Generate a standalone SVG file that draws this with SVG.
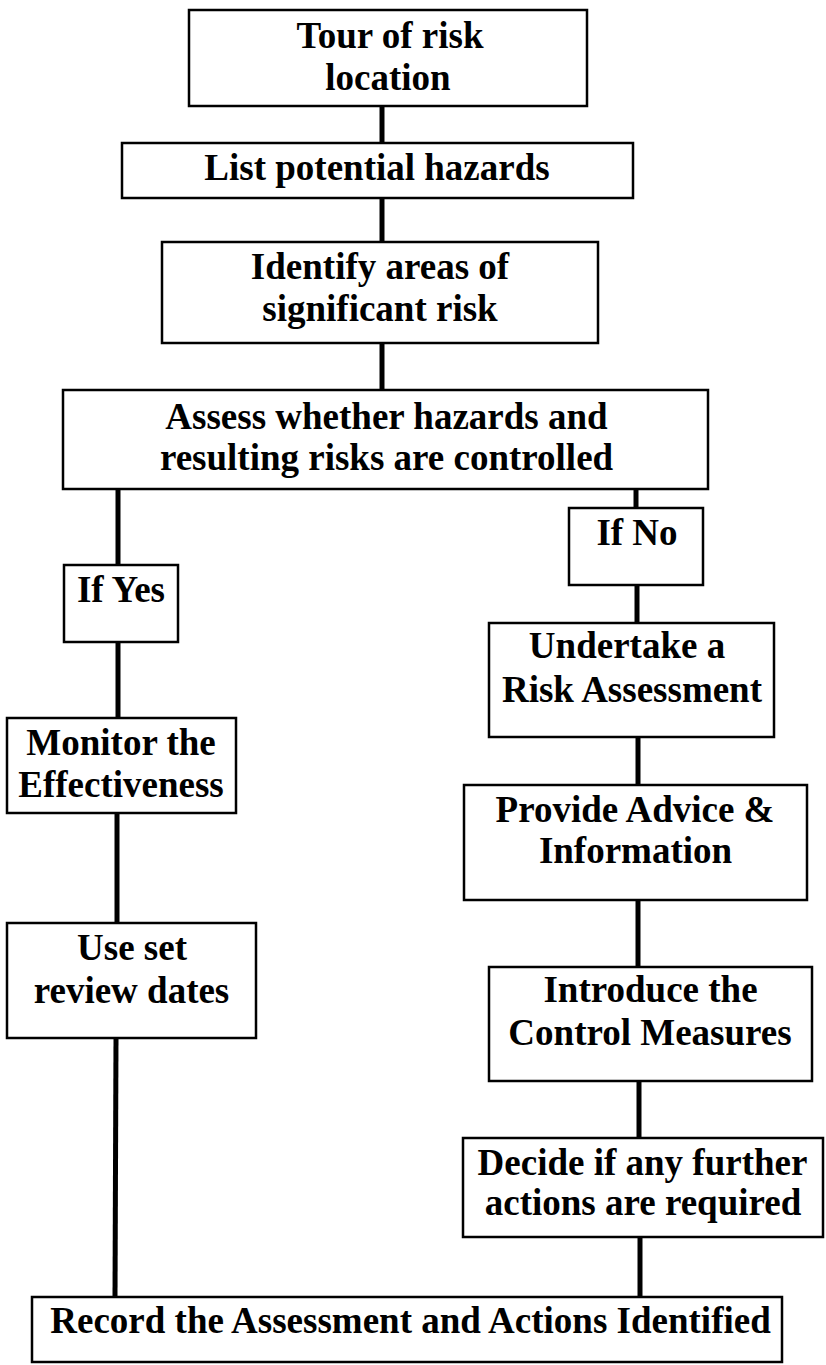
<svg xmlns="http://www.w3.org/2000/svg" width="826" height="1365" viewBox="0 0 826 1365">
<style>
.box{fill:#fff;stroke:#000;stroke-width:2.5}
.lbl{font-family:"Liberation Serif","Times New Roman",serif;font-weight:bold;font-size:37px;fill:#000;text-anchor:middle}
.con{stroke:#000;stroke-width:5;fill:none}
</style>
<rect width="826" height="1365" fill="#fff"/>
<g id="connectors">
<line class="con" x1="382" y1="106" x2="382" y2="143"/>
<line class="con" x1="382" y1="198" x2="382" y2="242"/>
<line class="con" x1="382" y1="343" x2="382" y2="390"/>
<line class="con" x1="118" y1="489" x2="118" y2="565"/>
<line class="con" x1="118" y1="642" x2="118" y2="718"/>
<line class="con" x1="117" y1="813" x2="117" y2="923"/>
<line class="con" x1="116" y1="1038" x2="115" y2="1297"/>
<line class="con" x1="636" y1="489" x2="636" y2="508"/>
<line class="con" x1="637" y1="585" x2="637" y2="623"/>
<line class="con" x1="638" y1="737" x2="638" y2="785"/>
<line class="con" x1="638" y1="900" x2="638" y2="967"/>
<line class="con" x1="639" y1="1081" x2="639" y2="1138"/>
<line class="con" x1="640" y1="1237" x2="640" y2="1297"/>
</g>
<g id="tour">
<rect class="box" x="189" y="10" width="398" height="96"/>
<text class="lbl" x="390" y="48">Tour of risk</text>
<text class="lbl" x="388" y="90">location</text>
</g>
<g id="list">
<rect class="box" x="122" y="143" width="511" height="55"/>
<text class="lbl" x="377" y="180">List potential hazards</text>
</g>
<g id="identify">
<rect class="box" x="162" y="242" width="436" height="101"/>
<text class="lbl" x="380" y="279">Identify areas of</text>
<text class="lbl" x="380" y="321">significant risk</text>
</g>
<g id="assess">
<rect class="box" x="63" y="390" width="645" height="99"/>
<text class="lbl" x="386.5" y="429">Assess whether hazards and</text>
<text class="lbl" x="386.5" y="470">resulting risks are controlled</text>
</g>
<g id="ifyes">
<rect class="box" x="64" y="565" width="114" height="77"/>
<text class="lbl" x="121" y="602">If Yes</text>
</g>
<g id="monitor">
<rect class="box" x="7" y="718" width="229" height="95"/>
<text class="lbl" x="121" y="755">Monitor the</text>
<text class="lbl" x="121" y="797">Effectiveness</text>
</g>
<g id="useset">
<rect class="box" x="7" y="923" width="249" height="115"/>
<text class="lbl" x="132" y="960">Use set</text>
<text class="lbl" x="131.5" y="1003">review dates</text>
</g>
<g id="ifno">
<rect class="box" x="569" y="508" width="134" height="77"/>
<text class="lbl" x="637" y="545">If No</text>
</g>
<g id="undertake">
<rect class="box" x="489" y="623" width="285" height="114"/>
<text class="lbl" x="627" y="658">Undertake a</text>
<text class="lbl" x="632" y="702">Risk Assessment</text>
</g>
<g id="provide">
<rect class="box" x="464" y="785" width="343" height="115"/>
<text class="lbl" x="635" y="822">Provide Advice &amp;</text>
<text class="lbl" x="635.5" y="863">Information</text>
</g>
<g id="introduce">
<rect class="box" x="489" y="967" width="323" height="114"/>
<text class="lbl" x="650.5" y="1002">Introduce the</text>
<text class="lbl" x="650" y="1045">Control Measures</text>
</g>
<g id="decide">
<rect class="box" x="463" y="1138" width="360" height="99"/>
<text class="lbl" x="642.5" y="1175">Decide if any further</text>
<text class="lbl" x="643" y="1215">actions are required</text>
</g>
<g id="record">
<rect class="box" x="32" y="1297" width="750" height="65"/>
<text class="lbl" x="410.5" y="1333">Record the Assessment and Actions Identified</text>
</g>
</svg>
